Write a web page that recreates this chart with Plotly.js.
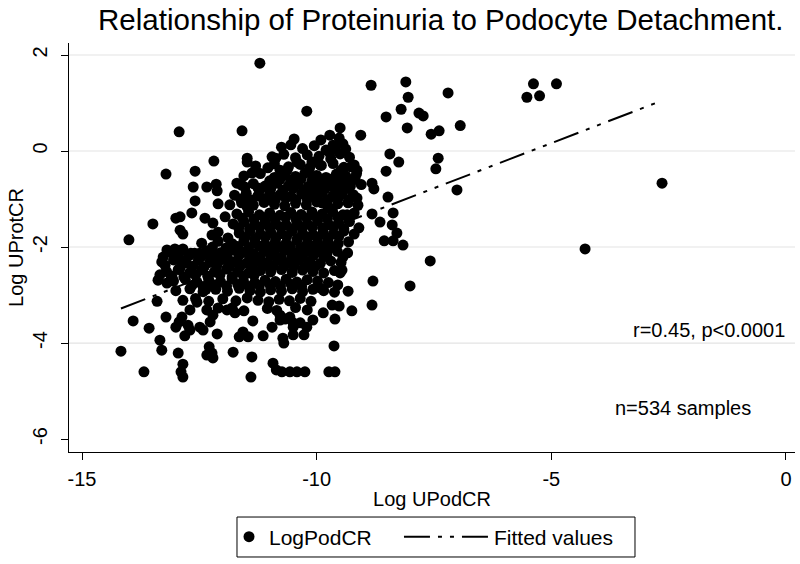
<!DOCTYPE html>
<html>
<head>
<meta charset="utf-8">
<script src="https://cdn.plot.ly/plotly-3.0.1.min.js"></script>
<style>html,body{margin:0;padding:0;background:#fff;}#chart{width:800px;height:564px;}</style>
</head>
<body>
<div id="chart"></div>
<script>
// ---- data (Log UPodCR, Log UProtCR) ----
const leftPoints = [[-14.17,-4.17],[-14.00,-1.85],[-13.91,-3.54],[-13.57,-3.69],[-13.49,-1.52],[-13.68,-4.60],[-13.40,-3.13],[-13.21,-0.48],[-13.34,-2.58],[-13.19,-2.06],[-13.27,-2.21],[-13.23,-2.38],[-13.02,-2.04],[-12.85,-2.04],[-12.68,-2.13],[-12.91,-2.27],[-12.91,-2.44],[-13.00,-1.40],[-12.91,-1.37],[-12.91,-1.65],[-12.85,-1.73],[-12.59,-1.04],[-12.66,-1.29],[-12.63,-0.75],[-12.59,-0.42],[-12.93,0.40],[-13.38,-2.69],[-13.19,-2.75],[-13.08,-2.63],[-13.21,-3.46],[-13.34,-3.94],[-13.30,-4.15],[-12.95,-4.21],[-13.00,-3.67],[-12.93,-3.56],[-12.87,-3.46],[-12.85,-4.44],[-12.89,-4.60],[-12.85,-4.71],[-12.74,-3.63],[-12.70,-3.73],[-12.81,-3.85],[-12.55,-3.15],[-12.49,-3.67],[-12.42,-3.73]];
const midPoints = [[-12.19,-0.21],[-12.34,-0.75],[-12.14,-0.69],[-12.12,-0.83],[-12.10,-1.10],[-12.38,-1.40],[-12.21,-1.50],[-12.10,-1.69],[-12.23,-1.75],[-12.36,-2.88],[-12.34,-3.31],[-12.21,-3.42],[-12.27,-3.56],[-12.12,-3.81],[-12.29,-4.08],[-12.23,-4.21],[-12.34,-4.25],[-12.21,-4.31],[-12.49,-2.13],[-12.27,-2.21],[-12.17,-2.33],[-11.70,-0.67],[-11.53,-0.75],[-11.95,-1.37],[-11.89,-1.81],[-11.91,-3.31],[-11.80,-3.27],[-11.74,-3.37],[-11.78,-4.19],[-11.57,-3.77],[-11.65,-3.87],[-11.46,-3.87],[-11.59,0.42],[-11.48,-0.15],[-11.48,-0.23],[-11.38,-0.46],[-11.36,-3.54],[-11.38,-4.29],[-11.40,-4.71],[-11.14,-3.85],[-11.21,1.83],[-11.04,-0.35],[-11.48,-1.02],[-11.48,-1.17],[-11.25,-0.77],[-11.06,-0.75],[-10.93,-1.02]];
const upperPoints = [[-10.87,-0.15],[-10.78,-0.40],[-10.63,-0.40],[-10.67,-0.50],[-10.48,0.25],[-10.42,-0.23],[-10.21,0.83],[-10.10,-0.23],[-10.08,-0.54],[-9.91,0.23],[-9.72,0.33],[-9.52,0.27],[-9.44,0.15],[-9.65,0.12],[-9.72,-0.04],[-9.93,-0.29],[-9.57,-0.75],[-9.50,-0.75],[-9.50,0.48],[-9.48,-0.40],[-9.27,-0.33],[-9.14,-0.40],[-9.33,-0.67],[-9.18,-0.56],[-9.14,-0.98],[-9.10,-1.60],[-9.06,0.33],[-9.72,-1.19],[-9.89,-1.08],[-9.35,-1.33]];
const rightPoints = [[-8.82,-0.67],[-8.78,-0.79],[-8.82,-1.31],[-8.65,-1.48],[-8.84,1.37],[-8.52,0.71],[-8.52,-0.42],[-8.48,-0.96],[-8.56,-1.87],[-8.80,-2.71],[-8.82,-3.21],[-8.10,1.44],[-8.05,1.12],[-8.20,0.87],[-8.07,0.48],[-8.44,-0.06],[-8.25,-0.23],[-8.37,-1.29],[-8.39,-1.54],[-8.29,-1.71],[-8.37,-1.87],[-8.16,-1.96],[-8.01,-2.81],[-7.82,0.79],[-7.73,0.73],[-7.58,-2.29],[-7.56,0.35],[-7.39,0.42],[-7.20,1.21],[-7.41,-0.15],[-7.46,-0.37],[-6.94,0.53],[-7.01,-0.81],[-5.52,1.12],[-5.38,1.40],[-5.25,1.15],[-4.89,1.40],[-4.28,-2.04],[-2.64,-0.67]];
const lowerPoints = [[-10.95,-3.67],[-10.93,-4.42],[-10.86,-4.56],[-10.74,-4.60],[-10.57,-4.60],[-10.78,-3.42],[-10.67,-3.50],[-10.50,-3.58],[-10.72,-3.90],[-10.50,-3.83],[-10.78,-3.52],[-10.57,-3.46],[-10.70,-4.00],[-10.42,-4.60],[-10.25,-4.60],[-10.27,-3.83],[-10.35,-3.58],[-10.50,-3.67],[-10.21,-3.67],[-10.08,-3.52],[-9.86,-3.37],[-9.93,-2.85],[-9.74,-4.60],[-9.61,-4.60],[-9.63,-4.06],[-9.67,-3.21],[-9.61,-3.50],[-9.52,-3.23],[-9.44,-2.21],[-9.50,-2.54],[-9.46,-2.48],[-9.55,-2.79],[-9.33,-2.92],[-9.25,-3.33]];
const corePoints = [
 [-10.75,0.08],[-10.55,0.13],[-10.30,0.05],[-10.05,0.11],[-9.80,0.02],[-9.60,0.09],[-9.38,0.04],
 [-10.95,-0.12],[-10.70,-0.07],[-10.45,-0.14],[-10.20,-0.08],[-9.95,-0.11],[-9.70,-0.16],[-9.50,-0.06],[-9.30,-0.13],
 [-11.30,-0.31],[-10.90,-0.27],[-10.60,-0.33],[-10.35,-0.28],[-10.15,-0.35],[-9.90,-0.30],[-9.65,-0.26],[-9.42,-0.34],[-9.20,-0.29],
 [-11.55,-0.52],[-11.20,-0.47],[-10.90,-0.55],[-10.70,-0.49],[-10.45,-0.53],[-10.25,-0.46],[-10.00,-0.51],[-9.80,-0.55],[-9.58,-0.48],[-9.38,-0.52],[-9.15,-0.47],
 [-11.60,-0.71],[-11.35,-0.68],[-11.10,-0.73],[-10.85,-0.67],[-10.60,-0.72],[-10.40,-0.69],[-10.18,-0.74],[-9.95,-0.68],[-9.72,-0.72],[-9.50,-0.66],[-9.28,-0.73],[-9.05,-0.70],
 [-11.75,-0.92],[-11.50,-0.88],[-11.25,-0.93],[-11.00,-0.87],[-10.78,-0.91],[-10.55,-0.94],[-10.32,-0.89],[-10.10,-0.92],[-9.88,-0.86],[-9.65,-0.93],[-9.45,-0.89],[-9.22,-0.91],
 [-11.85,-1.12],[-11.60,-1.08],[-11.35,-1.13],[-11.12,-1.07],[-10.90,-1.11],[-10.68,-1.14],[-10.45,-1.09],[-10.22,-1.12],[-10.00,-1.06],[-9.78,-1.13],[-9.55,-1.10],[-9.33,-1.08],[-9.12,-1.13],
 [-11.70,-1.31],[-11.45,-1.27],[-11.22,-1.33],[-11.00,-1.29],[-10.78,-1.34],[-10.55,-1.28],[-10.33,-1.32],[-10.10,-1.27],[-9.88,-1.31],[-9.66,-1.26],[-9.44,-1.33],[-9.20,-1.29],
 [-11.78,-1.52],[-11.55,-1.48],[-11.32,-1.53],[-11.10,-1.47],[-10.88,-1.51],[-10.65,-1.54],[-10.42,-1.49],[-10.20,-1.52],[-9.98,-1.46],[-9.75,-1.53],[-9.53,-1.50],[-9.30,-1.47],
 [-11.65,-1.71],[-11.42,-1.67],[-11.20,-1.73],[-10.98,-1.69],[-10.75,-1.72],[-10.52,-1.66],[-10.30,-1.71],[-10.08,-1.74],[-9.86,-1.68],[-9.64,-1.72],[-9.42,-1.67],[-9.20,-1.73],
 [-12.45,-1.92],[-12.10,-1.88],[-11.80,-1.93],[-11.55,-1.87],[-11.32,-1.91],[-11.10,-1.94],[-10.88,-1.89],[-10.65,-1.92],[-10.42,-1.86],[-10.20,-1.93],[-9.98,-1.90],[-9.76,-1.88],[-9.54,-1.93],[-9.32,-1.89],
 [-13.10,-2.11],[-12.85,-2.07],[-12.60,-2.13],[-12.35,-2.08],[-12.05,-2.12],[-11.80,-2.06],[-11.58,-2.11],[-11.35,-2.14],[-11.12,-2.09],[-10.90,-2.12],[-10.68,-2.07],[-10.45,-2.13],[-10.22,-2.08],[-10.00,-2.11],[-9.78,-2.14],[-9.56,-2.09],[-9.34,-2.12],
 [-13.30,-2.31],[-13.05,-2.27],[-12.78,-2.33],[-12.52,-2.28],[-12.28,-2.32],[-12.00,-2.26],[-11.75,-2.31],[-11.50,-2.34],[-11.28,-2.29],[-11.05,-2.32],[-10.82,-2.27],[-10.60,-2.33],[-10.38,-2.28],[-10.15,-2.31],[-9.92,-2.34],[-9.70,-2.29],[-9.48,-2.32],
 [-13.20,-2.51],[-12.95,-2.47],[-12.70,-2.53],[-12.45,-2.48],[-12.18,-2.52],[-11.92,-2.46],[-11.68,-2.51],[-11.45,-2.54],[-11.20,-2.49],[-10.98,-2.52],[-10.75,-2.47],[-10.52,-2.53],[-10.30,-2.48],[-10.08,-2.51],[-9.85,-2.54],[-9.62,-2.49],
 [-13.05,-2.71],[-12.80,-2.67],[-12.55,-2.73],[-12.30,-2.68],[-12.05,-2.72],[-11.80,-2.66],[-11.56,-2.71],[-11.32,-2.74],[-11.10,-2.69],[-10.88,-2.72],[-10.65,-2.67],[-10.42,-2.73],[-10.20,-2.68],[-9.98,-2.71],[-9.75,-2.74],
 [-13.00,-2.91],[-12.70,-2.87],[-12.42,-2.93],[-12.15,-2.88],[-11.90,-2.92],[-11.65,-2.86],[-11.42,-2.91],[-11.20,-2.94],[-10.98,-2.89],[-10.75,-2.92],[-10.52,-2.87],[-10.30,-2.93],[-10.08,-2.88],[-9.85,-2.91],[-9.62,-2.94],
 [-12.85,-3.11],[-12.58,-3.07],[-12.30,-3.13],[-12.00,-3.08],[-11.72,-3.12],[-11.48,-3.06],[-11.25,-3.11],[-11.02,-3.14],[-10.80,-3.09],[-10.58,-3.12],[-10.35,-3.07],[-10.12,-3.13],
 [-12.70,-3.31],[-12.10,-3.27],[-11.55,-3.33],[-11.05,-3.28],[-10.85,-3.32],[-10.45,-3.26],[-10.20,-3.31]
];
const denseCorePoints = [
 [-11.00,-0.62],[-10.78,-0.59],[-10.55,-0.61],[-10.33,-0.58],[-10.10,-0.62],[-9.88,-0.60],[-9.66,-0.58],[-9.44,-0.61],[-9.22,-0.60],
 [-11.22,-0.82],[-10.98,-0.79],[-10.72,-0.81],[-10.50,-0.78],[-10.28,-0.82],[-10.05,-0.80],[-9.82,-0.79],[-9.60,-0.81],[-9.38,-0.78],
 [-11.62,-1.00],[-11.38,-1.02],[-11.14,-0.99],[-10.88,-1.01],[-10.66,-0.98],[-10.44,-1.02],[-10.20,-1.00],[-9.98,-0.99],[-9.76,-1.01],[-9.54,-0.98],[-9.32,-1.02],
 [-11.58,-1.40],[-11.34,-1.42],[-11.11,-1.39],[-10.89,-1.41],[-10.66,-1.38],[-10.44,-1.42],[-10.21,-1.40],[-9.99,-1.39],[-9.77,-1.41],[-9.55,-1.38],[-9.32,-1.42],
 [-11.66,-1.60],[-11.43,-1.62],[-11.21,-1.59],[-10.99,-1.61],[-10.77,-1.58],[-10.54,-1.62],[-10.31,-1.60],[-10.09,-1.59],[-9.87,-1.61],[-9.64,-1.58],[-9.42,-1.62],
 [-11.53,-1.80],[-11.31,-1.82],[-11.09,-1.79],[-10.87,-1.81],[-10.64,-1.78],[-10.41,-1.82],[-10.19,-1.80],[-9.97,-1.79],[-9.75,-1.81],[-9.53,-1.78],
 [-12.22,-2.00],[-11.93,-2.02],[-11.68,-1.99],[-11.45,-2.01],[-11.23,-1.98],[-11.00,-2.02],[-10.78,-2.00],[-10.56,-1.99],[-10.34,-2.01],[-10.11,-1.98],[-9.89,-2.02],[-9.67,-2.00],
 [-12.95,-2.20],[-12.72,-2.18],[-12.47,-2.21],[-12.16,-2.19],[-11.90,-2.22],[-11.66,-2.18],[-11.43,-2.21],[-11.20,-2.20],[-10.97,-2.18],[-10.75,-2.22],[-10.52,-2.19],[-10.30,-2.21],[-10.07,-2.18],[-9.84,-2.20],
 [-12.64,-2.40],[-12.40,-2.42],[-12.13,-2.39],[-11.86,-2.41],[-11.62,-2.38],[-11.38,-2.42],[-11.15,-2.40],[-10.93,-2.39],[-10.70,-2.41],[-10.48,-2.38],[-10.25,-2.42],[-10.02,-2.40],
 [-13.10,-2.60],[-12.83,-2.62],[-12.58,-2.59],[-12.32,-2.61],[-12.06,-2.58],[-11.80,-2.62],[-11.56,-2.60],[-11.33,-2.59],
 [-12.66,-2.80],[-12.42,-2.82],[-12.18,-2.79],[-11.92,-2.81],[-11.68,-2.78],[-11.44,-2.82],[-11.22,-2.80],[-10.99,-2.79],[-10.77,-2.81],[-10.54,-2.78],[-10.32,-2.82]
];
const fitX = [-14.17, -2.64];
const fitY = [-3.28, 1.05];
const xTicks = [-15, -10, -5, 0];
const xTickText = ['-15', '-10', '-5', '0'];
const yTicks = [-6, -4, -2, 0, 2];
const yTickText = ['-6', '-4', '-2', '0', '2'];
const gridY = [2, 0, -2, -4];
const seriesNames = ['LogPodCR', 'Fitted values'];
const titleText = 'Relationship of Proteinuria to Podocyte Detachment.';
const noteR = 'r=0.45, p<0.0001';
const noteN = 'n=534 samples';

const allPts = [].concat(leftPoints, midPoints, upperPoints, rightPoints, lowerPoints, corePoints, denseCorePoints);
const px = allPts.map(p => p[0]);
const py = allPts.map(p => p[1]);

const FONT = 'Liberation Sans, Arial, Helvetica, sans-serif';

const traces = [
  {type: 'scatter', mode: 'markers', name: seriesNames[0], x: px, y: py, legend: 'legend',
   marker: {color: '#000', size: 11, line: {width: 0}}, hoverinfo: 'x+y'},
  {type: 'scatter', mode: 'lines', name: seriesNames[1], x: fitX, y: fitY, legend: 'legend2',
   line: {color: '#000', width: 2, dash: '26px,8px,4px,8px,4px,8px'}}
];

const legendCommon = {orientation: 'h', xanchor: 'left', y: -0.208, yanchor: 'middle',
                      borderwidth: 0, bgcolor: 'rgba(0,0,0,0)', font: {size: 21}};

const layout = {
  width: 800, height: 564,
  margin: {l: 69, r: 5, t: 43, b: 112},
  paper_bgcolor: '#fff', plot_bgcolor: '#fff',
  font: {family: FONT, color: '#000', size: 20},
  title: {text: titleText, font: {family: FONT, size: 29.5, color: '#000'},
          x: 0.551, xanchor: 'center', xref: 'container', y: 0.966, yanchor: 'middle', yref: 'container'},
  xaxis: {range: [-15.277, 0.193], tickvals: xTicks, ticktext: xTickText,
          showline: true, linecolor: '#000', linewidth: 1, ticks: 'outside', ticklen: 7, tickcolor: '#000', tickwidth: 1,
          showgrid: false, zeroline: false, tickfont: {size: 20}, ticklabelstandoff: 2,
          title: {text: 'Log UPodCR', font: {size: 20}, standoff: 2}},
  yaxis: {range: [-6.27, 2.25], tickvals: yTicks, ticktext: yTickText, tickangle: -90,
          showline: true, linecolor: '#000', linewidth: 1, ticks: 'outside', ticklen: 7, tickcolor: '#000', tickwidth: 1,
          showgrid: false, zeroline: false, tickfont: {size: 20}, ticklabelstandoff: 6,
          title: {text: 'Log UProtCR', font: {size: 20}, standoff: 0}},
  shapes: gridY.map(v => ({type: 'line', xref: 'paper', x0: 0, x1: 1, yref: 'y', y0: v, y1: v,
                           line: {color: '#e3e3e3', width: 1.2}, layer: 'below'}))
          .concat([{type: 'rect', xref: 'paper', yref: 'paper', x0: 0.2314, x1: 0.7796, y0: -0.2567, y1: -0.159,
                    line: {color: '#000', width: 1}, fillcolor: 'rgba(0,0,0,0)', layer: 'below'}]),
  annotations: [
    {text: noteR, x: -1.65, y: -3.73, xref: 'x', yref: 'y', showarrow: false, xanchor: 'center', yanchor: 'middle', font: {size: 20}},
    {text: noteN, x: -2.19, y: -5.35, xref: 'x', yref: 'y', showarrow: false, xanchor: 'center', yanchor: 'middle', font: {size: 20}}
  ],
  showlegend: true,
  legend: Object.assign({}, legendCommon, {x: 0.2204, itemwidth: 30}),
  legend2: Object.assign({}, legendCommon, {x: 0.4545, itemwidth: 85})
};

Plotly.newPlot('chart', traces, layout, {displayModeBar: false, staticPlot: true});
</script>
</body>
</html>
